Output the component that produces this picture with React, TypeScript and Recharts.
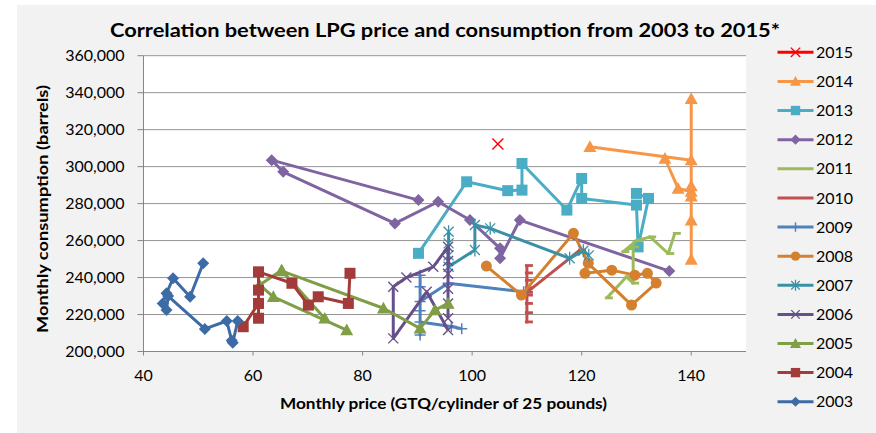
import React from 'react';
import { ScatterChart, Scatter, XAxis, YAxis, CartesianGrid } from 'recharts';

// ---- data (x = monthly price GTQ, y = monthly consumption barrels) ----
const years = ['2015', '2014', '2013', '2012', '2011', '2010', '2009', '2008', '2007', '2006', '2005', '2004', '2003'];

const y2015: [number, number][] = [[104.7, 312200]];
const y2014: [number, number][] = [
  [135.2, 304400], [137.6, 288200], [140.0, 286500], [140.0, 284000], [140.0, 271000], [140.0, 249800],
  [140.0, 289500], [140.0, 336700], [140.0, 303500], [121.5, 310700],
];
const y2013: [number, number][] = [
  [90.2, 253100], [99.0, 291800], [106.5, 287000], [109.1, 287300], [109.1, 301700], [117.3, 276500],
  [120.0, 293600], [120.0, 282800], [130.0, 279200], [130.3, 256600], [132.2, 282800], [130.0, 285500],
];
const y2012: [number, number][] = [
  [90.2, 281900], [63.4, 303500], [65.5, 297200], [85.9, 269300], [93.8, 281000], [99.6, 271100],
  [105.1, 255800], [105.1, 250400], [108.7, 271100], [136.0, 243500],
];
const y2011: [number, number][] = [
  [124.6, 229000], [128.2, 240400], [129.4, 237000], [129.4, 256600], [127.6, 254000], [130.0, 259900],
  [132.5, 262000], [135.8, 253000], [137.0, 263900],
];
const y2010: [number, number][] = [
  [110.0, 246500], [110.0, 242500], [110.0, 238500], [110.0, 234500], [110.0, 230500], [110.0, 226000],
  [110.0, 221000], [110.0, 216000], [110.0, 232000], [119.7, 254900],
];
const y2009: [number, number][] = [
  [109.4, 232300], [95.6, 236900], [90.5, 227000], [90.5, 241300], [90.5, 235000], [90.5, 222000],
  [90.5, 208900], [90.5, 216000], [96.2, 213500], [98.1, 212300],
];
const y2008: [number, number][] = [
  [102.6, 246200], [109.0, 230500], [118.5, 263900], [121.2, 247700], [129.1, 225100], [133.6, 237000],
  [132.0, 242300], [129.7, 241300], [125.5, 244000], [120.6, 242300],
];
const y2007: [number, number][] = [
  [95.7, 264800], [95.7, 258500], [95.7, 252000], [95.7, 245800], [100.5, 254900], [100.5, 268400],
  [103.3, 266600], [117.8, 250400], [120.3, 254500], [121.3, 252000],
];
const y2006: [number, number][] = [
  [95.6, 211600], [91.7, 232300], [85.6, 207100], [85.6, 235000], [88.0, 240000], [92.9, 245800],
  [95.6, 256600], [95.6, 249000], [95.6, 242000], [95.6, 234000], [95.6, 226000], [95.6, 218000],
];
const y2005: [number, number][] = [
  [77.1, 211600], [63.7, 229600], [61.2, 236000], [65.2, 244000], [73.1, 217900], [65.3, 243500],
  [83.8, 223400], [90.5, 212500], [93.2, 222400], [95.6, 226000],
];
const y2004: [number, number][] = [
  [77.7, 242300], [77.4, 226000], [71.9, 229600], [70.1, 225100], [67.1, 236900], [61.0, 243100],
  [61.0, 233200], [61.0, 218000], [61.0, 226000], [58.2, 213400],
];
const y2003: [number, number][] = [
  [50.9, 247700], [48.5, 229600], [45.4, 239600], [44.2, 231500], [43.5, 226000], [44.2, 222400],
  [44.5, 230000], [51.2, 212200], [55.2, 216500], [56.1, 206000], [56.3, 204800], [57.2, 216500],
];

const xTicks = [40, 60, 80, 100, 120, 140];
const yTicks = [200000, 220000, 240000, 260000, 280000, 300000, 320000, 340000, 360000];

const seriesData: Record<string, [number, number][]> = {
  '2015': y2015, '2014': y2014, '2013': y2013, '2012': y2012, '2011': y2011, '2010': y2010,
  '2009': y2009, '2008': y2008, '2007': y2007, '2006': y2006, '2005': y2005, '2004': y2004, '2003': y2003,
};

// ---- styles ----
const colors: Record<string, string> = {
  '2015': '#FF0000', '2014': '#F79646', '2013': '#4BACC6', '2012': '#8064A2', '2011': '#9BBB59',
  '2010': '#C0504D', '2009': '#4F81BD', '2008': '#D4802F', '2007': '#3A91A7', '2006': '#66508B',
  '2005': '#7F9E45', '2004': '#A23B39', '2003': '#3D6BA6',
};
const kinds: Record<string, string> = {
  '2015': 'x', '2014': 'triangle', '2013': 'square', '2012': 'diamond', '2011': 'dash', '2010': 'dash',
  '2009': 'plus', '2008': 'circle', '2007': 'star', '2006': 'x', '2005': 'triangle', '2004': 'square',
  '2003': 'diamond',
};

const FONT = 'Lato, "Open Sans", sans-serif';

function Marker({ cx, cy, kind, color, s = 1, year }: any) {
  if (cx == null || cy == null) return null;
  switch (kind) {
    case 'diamond': {
      const r = 6 * s;
      return <polygon points={`${cx},${cy - r} ${cx + r},${cy} ${cx},${cy + r} ${cx - r},${cy}`} fill={color} />;
    }
    case 'square': {
      const h = 5.5 * s;
      return <rect x={cx - h} y={cy - h} width={2 * h} height={2 * h} fill={color} />;
    }
    case 'triangle': {
      const r = 6.5 * s;
      return <polygon points={`${cx},${cy - r} ${cx + r},${cy + r * 0.8} ${cx - r},${cy + r * 0.8}`} fill={color} />;
    }
    case 'circle':
      return <circle cx={cx} cy={cy} r={5.5 * s} fill={color} />;
    case 'x': {
      const r = (year === '2015' ? 5.5 : 5) * s;
      return (
        <g stroke={color} strokeWidth={1.4}>
          <line x1={cx - r} y1={cy - r} x2={cx + r} y2={cy + r} />
          <line x1={cx - r} y1={cy + r} x2={cx + r} y2={cy - r} />
        </g>
      );
    }
    case 'star': {
      const r = 5 * s;
      return (
        <g stroke={color} strokeWidth={1.3}>
          <line x1={cx - r} y1={cy - r} x2={cx + r} y2={cy + r} />
          <line x1={cx - r} y1={cy + r} x2={cx + r} y2={cy - r} />
          <line x1={cx} y1={cy - r * 1.3} x2={cx} y2={cy + r * 1.3} />
        </g>
      );
    }
    case 'plus': {
      const r = 5.5 * s;
      return (
        <g stroke={color} strokeWidth={1.5}>
          <line x1={cx - r} y1={cy} x2={cx + r} y2={cy} />
          <line x1={cx} y1={cy - r} x2={cx} y2={cy + r} />
        </g>
      );
    }
    case 'dash':
      return <rect x={cx - 2 * s} y={cy - 1.4} width={8 * s} height={2.8} fill={color} />;
    default:
      return null;
  }
}

const YTick = (props: any) => {
  const { x, y, payload } = props;
  return (
    <text x={124.5} y={y + 5.7} textAnchor="end" fontFamily={FONT} fontSize={16} fill="#000">
      {Number(payload.value).toLocaleString('en-US')}
    </text>
  );
};

const XTick = (props: any) => {
  const { x, payload } = props;
  return (
    <text x={x} y={380.5} textAnchor="middle" fontFamily={FONT} fontSize={16} fill="#000">
      {payload.value}
    </text>
  );
};

export default function App() {
  return (
    <div style={{ position: 'absolute', left: 0, top: 0, width: 876, height: 433, background: '#ffffff', overflow: 'hidden' }}>
      <div style={{ position: 'absolute', left: 17, top: 5, right: 0, bottom: 0, background: '#f2f2f2' }} />
      <div style={{ position: 'absolute', left: 0, top: 0 }}>
        <ScatterChart width={876} height={433} margin={{ top: 55.7, right: 130, left: 0, bottom: 0 }}>
          <CartesianGrid vertical={false} stroke="#949494" strokeWidth={1} fill="#ffffff" fillOpacity={1} />
          <XAxis
            type="number"
            dataKey="x"
            domain={[40, 150]}
            ticks={xTicks}
            allowDataOverflow
            height={81.5}
            tickSize={4}
            stroke="#868686"
            tickLine={{ stroke: '#868686' }}
            axisLine={{ stroke: '#868686' }}
            tick={<XTick />}
            interval={0}
          />
          <YAxis
            type="number"
            dataKey="y"
            domain={[200000, 360000]}
            ticks={yTicks}
            allowDataOverflow
            width={143.5}
            tickSize={6}
            stroke="#868686"
            tickLine={{ stroke: '#868686' }}
            axisLine={{ stroke: '#868686' }}
            tick={<YTick />}
            interval={0}
          />
          {years.map((yr) => (
            <Scatter
              key={yr}
              name={yr}
              data={seriesData[yr].map(([x, y]) => ({ x, y }))}
              fill={colors[yr]}
              isAnimationActive={false}
              line={yr === '2015' ? false : { stroke: colors[yr], strokeWidth: 3, strokeLinejoin: 'round' }}
              lineType="joint"
              shape={(p: any) => <Marker cx={p.cx} cy={p.cy} kind={kinds[yr]} color={colors[yr]} year={yr} />}
            />
          ))}
        </ScatterChart>
      </div>
      <svg width={876} height={433} style={{ position: 'absolute', left: 0, top: 0, pointerEvents: 'none' }}>
        <text x={110} y={37} fontFamily={FONT} fontWeight={700} fontSize={19.5} fill="#000"
          textLength={670} lengthAdjust="spacingAndGlyphs">
          Correlation between LPG price and consumption from 2003 to 2015*
        </text>
        <text x={443.5} y={409} textAnchor="middle" fontFamily={FONT} fontWeight={700} fontSize={16} fill="#000"
          textLength={327} lengthAdjust="spacingAndGlyphs">
          Monthly price (GTQ/cylinder of 25 pounds)
        </text>
        <text transform="translate(48,209) rotate(-90)" x={0} y={0} textAnchor="middle" fontFamily={FONT}
          fontWeight={700} fontSize={16} fill="#000" textLength={248} lengthAdjust="spacingAndGlyphs">
          Monthly consumption (barrels)
        </text>
        {years.map((yr, i) => {
          const cy = 52.3 + i * 29.12;
          return (
            <g key={yr}>
              <line x1={777.5} y1={cy} x2={813.5} y2={cy} stroke={colors[yr]} strokeWidth={3} />
              {kinds[yr] !== 'dash' && <Marker cx={795.5} cy={cy} kind={kinds[yr]} color={colors[yr]} s={0.85} year={yr} />}
              <text x={816} y={cy + 5.7} fontFamily={FONT} fontSize={16} fill="#000">{yr}</text>
            </g>
          );
        })}
      </svg>
    </div>
  );
}
